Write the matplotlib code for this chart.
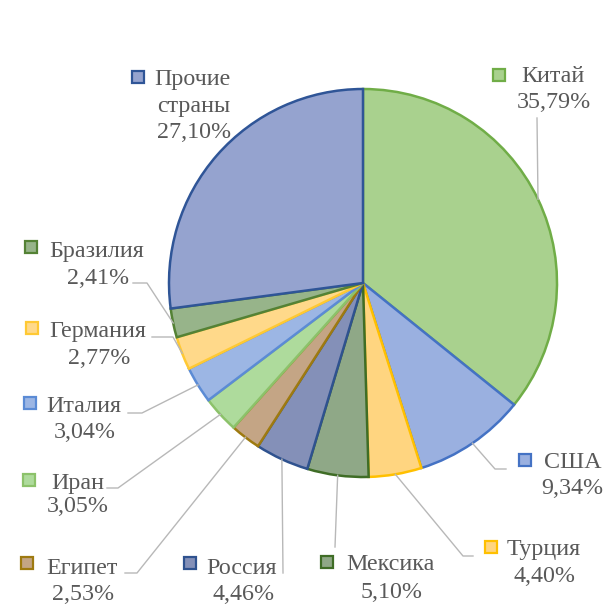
import numpy as np
import matplotlib
matplotlib.use("Agg")
import matplotlib.pyplot as plt

# data (clockwise from 12 o'clock)
countries = ["Китай", "США", "Турция", "Мексика", "Россия", "Египет",
             "Иран", "Италия", "Германия", "Бразилия", "Прочие\nстраны"]
shares = [35.79, 9.34, 4.40, 5.10, 4.46, 2.53, 3.05, 3.04, 2.77, 2.41, 27.10]

fills = ["#A9D18E", "#9AB0E0", "#FFD580", "#8FA887", "#8490B8", "#C4A585",
         "#AEDB9C", "#9CB6E4", "#FFD98A", "#97B48A", "#95A3CF"]
edges = ["#70AD47", "#4472C4", "#FFC000", "#3F6D26", "#2F528F", "#9E7A10",
         "#8CC26A", "#5B8BD5", "#FFC933", "#548235", "#2F5597"]

# label layout in pixels (top-left origin):
# marker (x, y), name left x, name y, pct center x, pct y, leader elbow, leader end
layout = {
    "Китай":    dict(mk=(499, 75), nx=521, ny=77, px=554, py=103, elbow=None, end=(537, 118)),
    "США":      dict(mk=(525, 460), nx=544, ny=463, px=572, py=489, elbow=(495, 469), end=(506, 469)),
    "Турция":   dict(mk=(491, 547), nx=507, ny=550, px=545, py=577, elbow=(463, 556), end=(473, 556)),
    "Мексика":  dict(mk=(327, 562), nx=346, ny=565, px=392, py=593, elbow=None, end=(335, 547)),
    "Россия":   dict(mk=(190, 563), nx=206, ny=568, px=244, py=595, elbow=None, end=(283, 573)),
    "Египет":   dict(mk=(27, 563), nx=46, ny=568, px=83, py=595, elbow=(137, 573), end=(125, 573)),
    "Иран":     dict(mk=(29, 480), nx=51, ny=483, px=78, py=507, elbow=(118, 488), end=(107, 488)),
    "Италия":   dict(mk=(30, 403), nx=46, ny=406, px=85, py=433, elbow=(142, 413), end=(128, 413)),
    "Германия": dict(mk=(32, 328), nx=49, ny=332, px=99, py=358, elbow=(173, 337), end=(152, 337)),
    "Бразилия": dict(mk=(31, 247), nx=49, ny=252, px=98, py=278, elbow=(147, 283), end=(133, 283)),
    "Прочие\nстраны": dict(mk=(138, 77), nx=154, ny=80, px=194, py=133, elbow=None, end=None),
}

W, H = 606, 609
cx, cy, r = 363, 283, 194
text_color = "#595959"

fig = plt.figure(figsize=(W / 100, H / 100), dpi=100)
ax = fig.add_axes([0, 0, 1, 1])

wedges, _ = ax.pie(shares, colors=fills, startangle=90, counterclock=False,
                   center=(cx, H - cy), radius=r,
                   wedgeprops=dict(linewidth=1.8))
for w, ec in zip(wedges, edges):
    w.set_edgecolor(ec)

ax.set_xlim(0, W)
ax.set_ylim(0, H)
ax.set_aspect("equal")
ax.axis("off")

font = dict(family="Liberation Serif", size=17.3, color=text_color)

for w, name, val, fc, ec in zip(wedges, countries, shares, fills, edges):
    lay = layout[name]
    # leader line from the wedge edge
    if lay["end"] is not None:
        ang = np.deg2rad((w.theta1 + w.theta2) / 2)
        ex = cx + r * np.cos(ang)
        ey = (H - cy) + r * np.sin(ang)
        pts = [(ex, ey)]
        if lay["elbow"] is not None:
            pts.append((lay["elbow"][0], H - lay["elbow"][1]))
        pts.append((lay["end"][0], H - lay["end"][1]))
        xs, ys = zip(*pts)
        ax.plot(xs, ys, color="#B8B8B8", lw=1.0, zorder=1)
    # legend key square
    ax.plot(lay["mk"][0], H - lay["mk"][1], marker="s", markersize=8.5,
            markerfacecolor=fc, markeredgecolor=ec, markeredgewidth=1.6)
    lines = name.split("\n")
    ax.text(lay["nx"], H - lay["ny"], lines[0], ha="left", va="center", **font)
    if len(lines) > 1:
        ax.text(lay["px"], H - (lay["ny"] + lay["py"]) / 2, lines[1],
                ha="center", va="center", **font)
    pct = f"{val:.2f}%".replace(".", ",")
    ax.text(lay["px"], H - lay["py"], pct, ha="center", va="center", **font)

fig.savefig("out.png", dpi=100)
